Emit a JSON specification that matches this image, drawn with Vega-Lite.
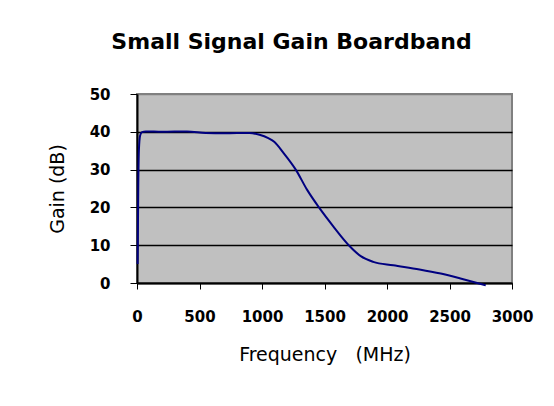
{
  "$schema": "https://vega.github.io/schema/vega-lite/v6.json",
  "autosize": "none",
  "width": 375,
  "height": 189,
  "padding": {"left": 137, "top": 94, "right": 42, "bottom": 123},
  "background": "white",
  "title": {
    "text": "Small Signal Gain Boardband",
    "font": "DejaVu Sans",
    "fontSize": 22,
    "fontWeight": "bold",
    "color": "black",
    "anchor": "middle",
    "baseline": "alphabetic",
    "offset": 16,
    "dx": -33
  },
  "data": {
    "values": [
      {"freq": 5, "gain": 5},
      {"freq": 10, "gain": 25},
      {"freq": 15, "gain": 35},
      {"freq": 25, "gain": 39},
      {"freq": 40, "gain": 39.9},
      {"freq": 70, "gain": 40.1},
      {"freq": 200, "gain": 40},
      {"freq": 400, "gain": 40.1},
      {"freq": 550, "gain": 39.7},
      {"freq": 700, "gain": 39.6},
      {"freq": 900, "gain": 39.7},
      {"freq": 980, "gain": 39.2},
      {"freq": 1050, "gain": 38.3},
      {"freq": 1100, "gain": 37.3},
      {"freq": 1170, "gain": 34.5},
      {"freq": 1270, "gain": 30},
      {"freq": 1360, "gain": 24.7},
      {"freq": 1460, "gain": 19.8},
      {"freq": 1570, "gain": 15},
      {"freq": 1700, "gain": 9.8},
      {"freq": 1790, "gain": 7.1},
      {"freq": 1890, "gain": 5.6},
      {"freq": 2050, "gain": 4.7},
      {"freq": 2260, "gain": 3.6},
      {"freq": 2430, "gain": 2.5},
      {"freq": 2610, "gain": 1},
      {"freq": 2790, "gain": -0.6}
    ]
  },
  "mark": {"type": "line", "color": "#000080", "strokeWidth": 2, "interpolate": "monotone"},
  "encoding": {
    "x": {
      "field": "freq",
      "type": "quantitative",
      "scale": {"domain": [0, 3000], "nice": false},
      "axis": {
        "title": "\u00a0\u00a0\u00a0Frequency \u00a0\u00a0(MHz)",
        "format": "d",
        "values": [0, 500, 1000, 1500, 2000, 2500, 3000],
        "grid": false,
        "domainColor": "black",
        "domainWidth": 2,
        "tickColor": "black",
        "tickSize": 6,
        "labelFont": "DejaVu Sans",
        "labelFontSize": 15,
        "labelFontWeight": "bold",
        "labelColor": "black",
        "labelPadding": 20,
        "labelFlush": false,
        "titleFont": "DejaVu Sans",
        "titleFontSize": 19,
        "titleFontWeight": "normal",
        "titleColor": "black",
        "titlePadding": 21
      }
    },
    "y": {
      "field": "gain",
      "type": "quantitative",
      "scale": {"domain": [0, 50], "nice": false},
      "axis": {
        "title": "Gain (dB)",
        "format": "d",
        "values": [0, 10, 20, 30, 40, 50],
        "grid": true,
        "gridColor": {"condition": {"test": "datum.value === 50", "value": "#808080"}, "value": "black"},
        "gridWidth": 1.5,
        "domainColor": "black",
        "domainWidth": 2,
        "tickColor": "black",
        "tickSize": 7,
        "labelFont": "DejaVu Sans",
        "labelFontSize": 15,
        "labelFontWeight": "bold",
        "labelColor": "black",
        "labelPadding": 20,
        "labelFlush": false,
        "titleFont": "DejaVu Sans",
        "titleFontSize": 19,
        "titleFontWeight": "normal",
        "titleColor": "black",
        "titlePadding": 22
      }
    }
  },
  "config": {
    "view": {"fill": "#C0C0C0", "stroke": "#808080", "strokeWidth": 2}
  }
}
